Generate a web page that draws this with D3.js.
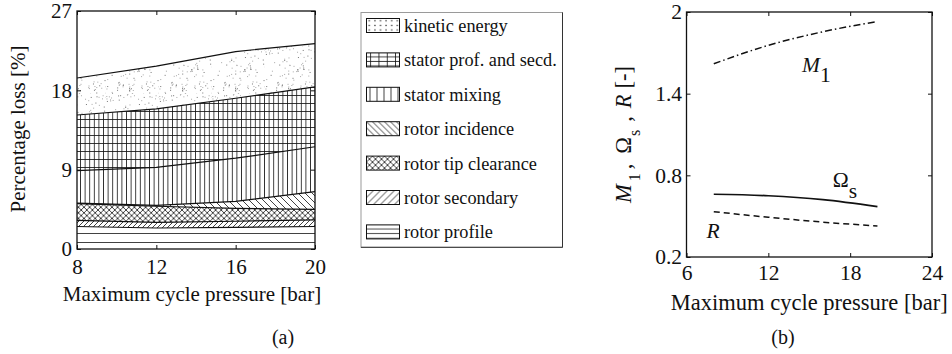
<!DOCTYPE html>
<html>
<head>
<meta charset="utf-8">
<script src="https://cdnjs.cloudflare.com/ajax/libs/d3/7.8.5/d3.min.js"></script>
<style>
body { margin: 0; background: #fff; }
svg { display: block; font-family: "Liberation Serif", "Times New Roman", "DejaVu Serif", serif; }
</style>
</head>
<body>
<svg id="fig" width="952" height="354"></svg>
<script>
// maximum cycle pressure [bar], shared by both panels
var pressure = [8, 12, 16, 20];

// (a) loss breakdown in %, bottom layer first
var lossNames = ["rotor profile", "rotor secondary", "rotor tip clearance",
    "rotor incidence", "stator mixing", "stator prof. and secd.", "kinetic energy"];
var rotorProfile   = [2.55, 2.38, 2.45, 2.55];
var rotorSecondary = [0.69, 0.64, 0.70, 0.75];
var rotorTip       = [1.91, 1.83, 1.45, 1.20];
var rotorIncidence = [0.05, 0.10, 0.80, 2.00];
var statorMixing   = [3.70, 4.30, 4.90, 5.10];
var statorProfSecd = [6.30, 6.65, 6.80, 6.80];
var kineticEnergy  = [4.20, 4.85, 5.30, 4.90];
var lossTicksX = [8, 12, 16, 20];
var lossTicksY = [0, 9, 18, 27];

// (b) non-dimensional parameters
var machM1   = [1.620, 1.755, 1.855, 1.930];
var omegaS   = [0.661, 0.650, 0.621, 0.570];
var reactR   = [0.533, 0.492, 0.456, 0.428];
var paramTicksX = [6, 12, 18, 24];
var paramTicksY = [0.2, 0.8, 1.4, 2];

var svg = d3.select("#fig");
var defs = svg.append("defs");
var ink = "#111";

function frac(v) { return v - Math.floor(v); }

// hatch fills, kind -> drawing inside one tile
function addPattern(id, kind, w, h) {
    var p = defs.append("pattern")
        .attr("id", id)
        .attr("patternUnits", "userSpaceOnUse")
        .attr("width", w)
        .attr("height", h);
    p.append("rect").attr("width", w).attr("height", h).attr("fill", "#fff");

    var d = "";
    if (kind === "horiz" || kind === "grid") d += "M0," + (h - 0.5) + "H" + w;
    if (kind === "vert" || kind === "grid") d += "M" + (w / 2) + ",0V" + h;
    if (kind === "fwd" || kind === "cross")
        d += "M0," + h + "L" + w + ",0M-1,1L1,-1M" + (w - 1) + "," + (h + 1) + "L" + (w + 1) + "," + (h - 1);
    if (kind === "back" || kind === "cross")
        d += "M0,0L" + w + "," + h + "M-1," + (h - 1) + "L1," + (h + 1) + "M" + (w - 1) + ",-1L" + (w + 1) + ",1";
    if (d) {
        p.append("path").attr("d", d)
            .attr("stroke", ink).attr("stroke-width", 0.8).attr("fill", "none");
    }
    if (kind === "dots") {
        p.append("rect").attr("x", w / 2 - 0.6).attr("y", h / 2 - 0.6)
            .attr("width", 1.2).attr("height", 1.2).attr("fill", ink);
    }
    if (kind === "stipple") {
        // scattered specks, only a texture
        for (var i = 1; i < 115; i++) {
            p.append("rect")
                .attr("x", frac(i * 0.7548777 + frac(i * i * 0.0618)) * w)
                .attr("y", frac(i * 0.5698403 + frac(i * i * 0.0377)) * h)
                .attr("width", 1).attr("height", 1)
                .attr("fill", i % 3 ? "#aaa" : "#777");
        }
    }
}

var fillKind = {
    "rotor profile": "horiz",
    "rotor secondary": "fwd",
    "rotor tip clearance": "cross",
    "rotor incidence": "back",
    "stator mixing": "vert",
    "stator prof. and secd.": "grid",
    "kinetic energy": "stipple"
};
var swatchKind = {
    "rotor profile": "horiz",
    "rotor secondary": "fwd",
    "rotor tip clearance": "cross",
    "rotor incidence": "back",
    "stator mixing": "vert",
    "stator prof. and secd.": "grid",
    "kinetic energy": "dots"
};
var plotTile = { horiz: [9, 9], fwd: [5, 5], cross: [5.6, 5.6], back: [7, 7], vert: [4.6, 4.6], grid: [4.6, 8], stipple: [53, 47] };
var swatchTile = { horiz: [9, 4.6], fwd: [7, 7], cross: [6, 6], back: [6, 6], vert: [7, 7], grid: [8.3, 4.5], dots: [5.6, 4.6] };

lossNames.forEach(function(name, i) {
    var k = fillKind[name], s = swatchKind[name];
    addPattern("pf" + i, k, plotTile[k][0], plotTile[k][1]);
    addPattern("sw" + i, s, swatchTile[s][0], swatchTile[s][1]);
});

function styleAxis(g, size) {
    g.attr("font-family", null).attr("font-size", size);
    g.selectAll(".domain").remove();
    g.selectAll(".tick line").attr("stroke", ink);
    g.selectAll(".tick text").attr("fill", ink);
}

// draws the frame with inward ticks on all four sides
function frame(x, y, tx, ty, fontSize, padX, padY) {
    var x0 = x.range()[0], x1 = x.range()[1], y0 = y.range()[0], y1 = y.range()[1];
    var t = 4;
    var fmt = function(d) { return String(d); };

    svg.append("g").attr("transform", "translate(0," + y0 + ")")
        .call(d3.axisBottom(x).tickValues(tx).tickFormat(fmt).tickSizeInner(-t).tickSizeOuter(0).tickPadding(padX))
        .call(styleAxis, fontSize);
    svg.append("g").attr("transform", "translate(0," + y1 + ")")
        .call(d3.axisTop(x).tickValues(tx).tickSizeInner(-t).tickSizeOuter(0).tickFormat(""))
        .call(styleAxis, fontSize);
    svg.append("g").attr("transform", "translate(" + x0 + ",0)")
        .call(d3.axisLeft(y).tickValues(ty).tickFormat(fmt).tickSizeInner(-t).tickSizeOuter(0).tickPadding(padY))
        .call(styleAxis, fontSize);
    svg.append("g").attr("transform", "translate(" + x1 + ",0)")
        .call(d3.axisRight(y).tickValues(ty).tickSizeInner(-t).tickSizeOuter(0).tickFormat(""))
        .call(styleAxis, fontSize);

    svg.append("rect")
        .attr("x", x0).attr("y", y1)
        .attr("width", x1 - x0).attr("height", y0 - y1)
        .attr("fill", "none").attr("stroke", ink).attr("stroke-width", 1.3);
}

// ---------- (a) stacked losses ----------
var xA = d3.scaleLinear().domain([8, 20]).range([77, 315]);
var yA = d3.scaleLinear().domain([0, 27]).range([249, 11]);

var layers = [rotorProfile, rotorSecondary, rotorTip, rotorIncidence,
    statorMixing, statorProfSecd, kineticEnergy];
var rows = pressure.map(function(p, i) {
    var r = { p: p };
    lossNames.forEach(function(name, j) { r[name] = layers[j][i]; });
    return r;
});
var stacked = d3.stack().keys(lossNames)(rows);

var area = d3.area()
    .x(function(d) { return xA(d.data.p); })
    .y0(function(d) { return yA(d[0]); })
    .y1(function(d) { return yA(d[1]); });
var edge = d3.line()
    .x(function(d) { return xA(d.data.p); })
    .y(function(d) { return yA(d[1]); });

svg.append("g").selectAll("path")
    .data(stacked)
    .join("path")
    .attr("d", area)
    .attr("fill", function(d, i) { return "url(#pf" + i + ")"; });

svg.append("g").selectAll("path")
    .data(stacked)
    .join("path")
    .attr("d", edge)
    .attr("fill", "none")
    .attr("stroke", ink)
    .attr("stroke-width", 1.2);

frame(xA, yA, lossTicksX, lossTicksY, 21, 10, 5);

svg.append("text")
    .attr("x", d3.mean(xA.range()) - 4).attr("y", 300.5)
    .attr("text-anchor", "middle").attr("font-size", 21).attr("fill", ink)
    .text("Maximum cycle pressure [bar]");
svg.append("text")
    .attr("transform", "translate(24.5," + (d3.mean(yA.range()) - 1) + ") rotate(-90)")
    .attr("text-anchor", "middle").attr("font-size", 21).attr("fill", ink)
    .text("Percentage loss [%]");

// legend, top entry is the top layer
var legend = svg.append("g");
var lgX = 361, lgY = 12.5, lgW = 201.5, lgH = 234.8;
legend.append("rect")
    .attr("x", lgX).attr("y", lgY).attr("width", lgW).attr("height", lgH)
    .attr("fill", "#fff").attr("stroke", "#9a9a9a").attr("stroke-width", 1);
legend.append("path")
    .attr("d", "M" + (lgX + lgW) + "," + lgY + "V" + (lgY + lgH) + "H" + lgX)
    .attr("fill", "none").attr("stroke", "#333").attr("stroke-width", 1);

var legendOrder = lossNames.slice().reverse();
var entry = legend.selectAll("g.entry")
    .data(legendOrder)
    .join("g")
    .attr("class", "entry")
    .attr("transform", function(d, i) { return "translate(" + (lgX + 5.5) + "," + (18.5 + i * 34.4) + ")"; });
entry.append("rect")
    .attr("width", 33).attr("height", 14)
    .attr("fill", function(d) { return "url(#sw" + lossNames.indexOf(d) + ")"; })
    .attr("stroke", ink).attr("stroke-width", 1);
entry.append("text")
    .attr("x", 37.5).attr("y", 13.5)
    .attr("font-size", 18.3).attr("fill", ink)
    .text(function(d) { return d; });

svg.append("text")
    .attr("x", 283).attr("y", 344)
    .attr("text-anchor", "middle").attr("font-size", 20).attr("fill", ink)
    .text("(a)");

// ---------- (b) M1, Omega_s, R ----------
var xB = d3.scaleLinear().domain([6, 24]).range([686.5, 932]);
var yB = d3.scaleLinear().domain([0.2, 2]).range([257, 12]);

var series = [
    { values: machM1, dash: "7,3,1.5,3", width: 1.5 },
    { values: omegaS, dash: null, width: 1.7 },
    { values: reactR, dash: "6,4", width: 1.5 }
];
var curve = d3.line()
    .x(function(d) { return xB(d[0]); })
    .y(function(d) { return yB(d[1]); })
    .curve(d3.curveMonotoneX);

svg.append("g").selectAll("path")
    .data(series)
    .join("path")
    .attr("d", function(s) { return curve(d3.zip(pressure, s.values)); })
    .attr("fill", "none")
    .attr("stroke", ink)
    .attr("stroke-width", function(s) { return s.width; })
    .attr("stroke-dasharray", function(s) { return s.dash; });

frame(xB, yB, paramTicksX, paramTicksY, 21.5, 8, 4.5);

// curve labels, placed in data units
var curveLabels = [
    { p: 14.47, v: 1.559, main: "M", sub: "1", italic: true, drop: 10 },
    { p: 16.73, v: 0.716, main: "\u03A9", sub: "s", italic: false, drop: 11 },
    { p: 7.46, v: 0.337, main: "R", sub: "", italic: true, drop: 0 }
];
var lab = svg.append("g").selectAll("text")
    .data(curveLabels)
    .join("text")
    .attr("x", function(d) { return xB(d.p); })
    .attr("y", function(d) { return yB(d.v); })
    .attr("font-size", 21.5).attr("fill", ink);
lab.append("tspan")
    .attr("font-style", function(d) { return d.italic ? "italic" : null; })
    .text(function(d) { return d.main; });
lab.append("tspan")
    .attr("dy", function(d) { return d.drop; })
    .text(function(d) { return d.sub; });

svg.append("text")
    .attr("x", d3.mean(xB.range())).attr("y", 310)
    .attr("text-anchor", "middle").attr("font-size", 22.5).attr("fill", ink)
    .text("Maximum cycle pressure [bar]");

// rotated label with subscripts, gaps set with dx
var yl = svg.append("text")
    .attr("transform", "translate(631," + d3.mean(yB.range()) + ") rotate(-90)")
    .attr("text-anchor", "middle").attr("font-size", 22.5).attr("fill", ink);
yl.append("tspan").attr("font-style", "italic").text("M");
yl.append("tspan").attr("font-size", 16).attr("dx", 3).attr("dy", 9).text("1");
yl.append("tspan").attr("dx", 4).attr("dy", -9).text(",");
yl.append("tspan").attr("dx", 10).text("\u03A9");
yl.append("tspan").attr("font-size", 16).attr("dx", 1).attr("dy", 9).text("s");
yl.append("tspan").attr("dx", 8).attr("dy", -9).text(",");
yl.append("tspan").attr("dx", 8).attr("font-style", "italic").text("R");
yl.append("tspan").attr("dx", 6).text("[-]");

svg.append("text")
    .attr("x", 783).attr("y", 344)
    .attr("text-anchor", "middle").attr("font-size", 20).attr("fill", ink)
    .text("(b)");
</script>
</body>
</html>
